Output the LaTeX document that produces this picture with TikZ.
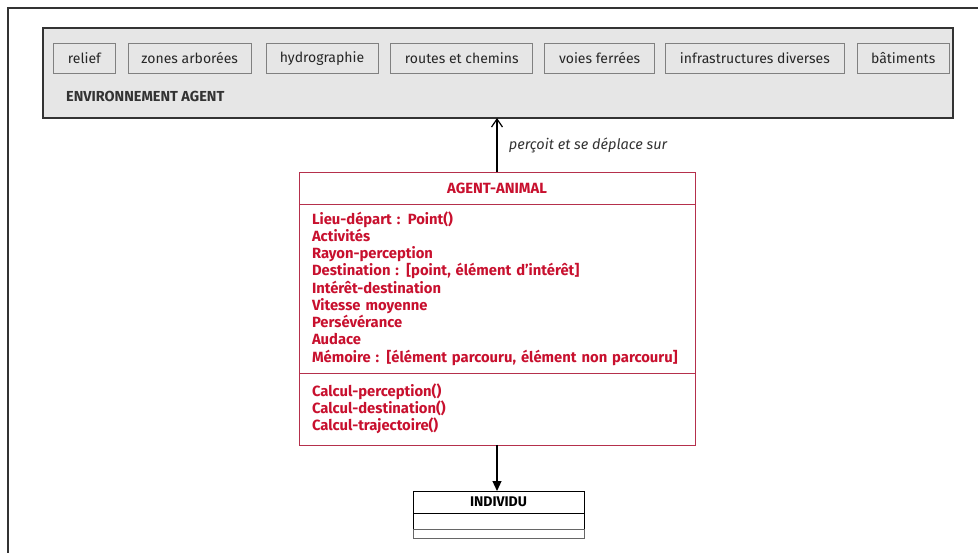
\documentclass[tikz,border=0pt]{standalone}
\usepackage{fontspec}
\setmainfont{Fira Sans}
\usetikzlibrary{positioning, arrows.meta}
\definecolor{GrayA}{HTML}{333333}
\definecolor{GrayB}{HTML}{E6E6E6}
\definecolor{GrayC}{HTML}{808080}
\definecolor{RedA}{HTML}{C8102E}
\definecolor{RedB}{HTML}{B5304C}
\tikzset{
  envbox/.style={draw=GrayA, fill=GrayB, line width=1.2pt, minimum width=910pt, minimum height=90pt, inner sep=0pt, outer sep=0pt},
  elem/.style={draw=GrayC, fill=GrayB, line width=0.8pt, font=\fontsize{14}{16}\selectfont, text=black!85, minimum height=30pt, inner sep=0pt},
  cls/.style={draw=RedB, fill=white, line width=0.8pt, text=RedA, font=\fontsize{14.8}{17.25}\selectfont\bfseries, inner sep=0pt, outer sep=0pt, minimum width=396pt},
  clsbody/.style={cls, text width=370pt, inner xsep=13pt, align=left},
  ind/.style={draw=black, fill=white, line width=0.8pt, minimum width=171pt, inner sep=0pt, outer sep=0pt, font=\fontsize{14}{15}\selectfont\bfseries},
  up/.style={-{Straight Barb[length=8pt, width=11pt]}, line width=1.2pt},
  down/.style={-{Triangle[length=10pt, width=9pt]}, line width=1.2pt}
}

\begin{document}
\begin{tikzpicture}[x=1pt, y=-1pt]
  \useasboundingbox (0,0) rectangle (978,553);
  \draw[line width=1.4pt, GrayA] (8,570) -- (8,8) -- (990,8);

  \node[envbox, anchor=north west] (env) at (43,28) {};
  \node[elem, anchor=north west, minimum width=62pt] (e1) at (53,43) {relief};
  \node[elem, right=12pt of e1, minimum width=123pt] (e2) {zones arborées};
  \node[elem, right=14pt of e2, minimum width=112pt] (e3) {hydrographie};
  \node[elem, right=12pt of e3, minimum width=142pt] (e4) {routes et chemins};
  \node[elem, right=11pt of e4, minimum width=110pt] (e5) {voies ferrées};
  \node[elem, right=10pt of e5, minimum width=179pt] (e6) {infrastructures diverses};
  \node[elem, right=12pt of e6, minimum width=92pt] (e7) {bâtiments};
  \node[anchor=west, inner sep=0pt, text=GrayA, font=\fontsize{14.5}{16}\selectfont\bfseries] (envlbl) at (66,96) {ENVIRONNEMENT AGENT};

  \node[cls, anchor=north west, minimum height=32pt] (hdr) at (299,172) {AGENT-ANIMAL};
  \node[clsbody, below=0pt of hdr, minimum height=169pt] (attr) {Lieu-départ : Point()\\Activités\\Rayon-perception\\Destination : [point, élément d’intérêt]\\Intérêt-destination\\Vitesse moyenne\\Persévérance\\Audace\\Mémoire : [élément parcouru, élément non parcouru]};
  \node[clsbody, below=0pt of attr, minimum height=72pt] (meth) {Calcul-perception()\\Calcul-destination()\\Calcul-trajectoire()};

  \node[ind, anchor=north west, minimum height=22pt] (ind1) at (413,491) {INDIVIDU};
  \node[ind, below=0pt of ind1, minimum height=16pt] (ind2) {};
  \node[ind, below=0pt of ind2, minimum height=9pt, draw=black!60] (ind3) {};

  \draw[up] (hdr.north) -- node[right=8pt, text=GrayA, font=\fontsize{14.5}{16}\selectfont\itshape] {perçoit et se déplace sur} (hdr.north |- env.south);
  \draw[down] (meth.south) -- (meth.south |- ind1.north);
\end{tikzpicture}
\end{document}
